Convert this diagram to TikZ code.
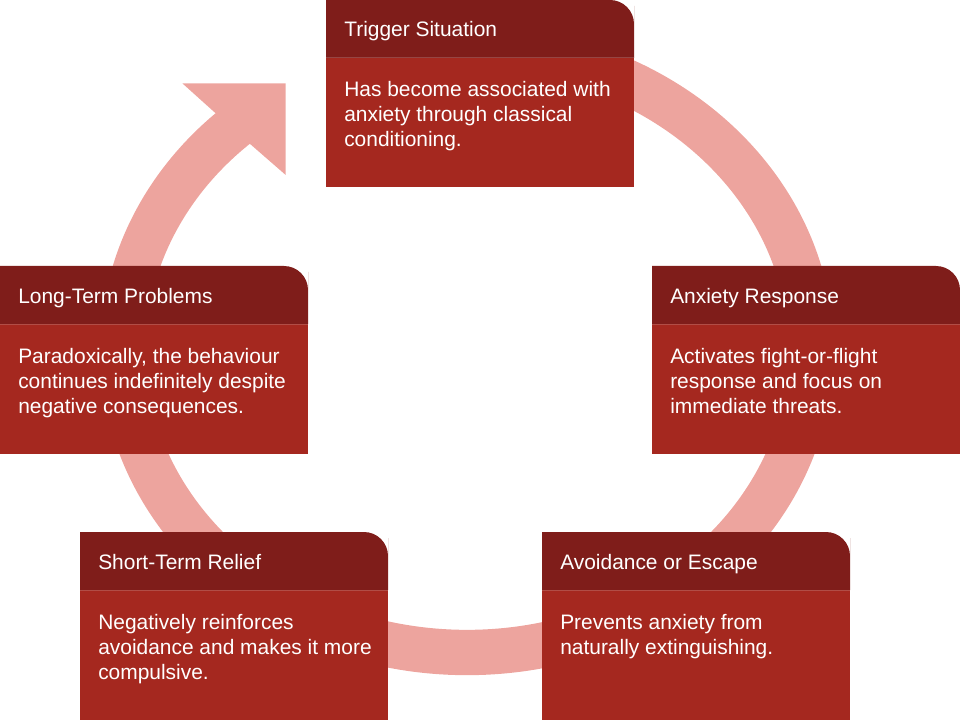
\documentclass[tikz,border=0pt]{standalone}
\usepackage{fontspec}
\setmainfont{Liberation Sans}
\usepackage{tikz}

\definecolor{headred}{HTML}{7F1D1A}
\definecolor{bodyred}{HTML}{A5281F}
\definecolor{ringpink}{HTML}{EDA49E}

\tikzset{
    headbox/.style = {fill=headred},
    bodybox/.style = {fill=bodyred},
    cardline/.style = {draw=white, draw opacity=0.18, line width=0.75pt},
    headtext/.style = {anchor=base west, inner sep=0pt, text=white,
        font=\fontsize{15.7}{18.75}\selectfont},
    bodytext/.style = {headtext, align=left},
    ring/.style = {draw=ringpink, line width=34pt},
}

\begin{document}
\begin{tikzpicture}[x=0.75pt, y=-0.75pt]
            \useasboundingbox (0,0) rectangle (960,720);

            % the cycle, drawn behind the cards
            \draw[ring] (467,47.5) arc[start angle=-90, end angle=229,
                x radius=344, y radius=302.5];
            \fill[ringpink] (215,112.7) -- (182.3,83.3) -- (285.7,83.3)
                -- (285.7,175) -- (249.3,143.3) -- cycle;

            % cards
            \foreach \bx/\by in {326/0, 652/266, 542/532, 80/532, 0/266} {
                \fill[bodybox] (\bx,\by+58) rectangle (\bx+308,\by+187.5);
                \fill[headbox] (\bx,\by+58) -- (\bx,\by) -- (\bx+280,\by)
                    [rounded corners=18pt] -- (\bx+308,\by) -- (\bx+308,\by+30)
                    [sharp corners] -- (\bx+308,\by+58) -- cycle;
                \draw[cardline] (\bx,\by+58) -- (\bx+308,\by+58);
            }

            % body texts sit on the baseline of their last line
            \node[headtext] (trigger-head) at (344,37) {Trigger Situation};
            \node[bodytext] (trigger-body) at (344,147)
                {Has become associated with\\anxiety through classical\\conditioning.};

            \node[headtext] (anxiety-head) at (670,303) {Anxiety Response};
            \node[bodytext] (anxiety-body) at (670,413)
                {Activates fight-or-flight\\response and focus on\\immediate threats.};

            \node[headtext] (avoid-head) at (560,569) {Avoidance or Escape};
            \node[bodytext] (avoid-body) at (560,654)
                {Prevents anxiety from\\naturally extinguishing.};

            \node[headtext] (relief-head) at (98,569) {Short-Term Relief};
            \node[bodytext] (relief-body) at (98,679)
                {Negatively reinforces\\avoidance and makes it more\\compulsive.};

            \node[headtext] (problem-head) at (18,303) {Long-Term Problems};
            \node[bodytext] (problem-body) at (18,413)
                {Paradoxically, the behaviour\\continues indefinitely despite\\negative consequences.};
        \end{tikzpicture}
\end{document}
